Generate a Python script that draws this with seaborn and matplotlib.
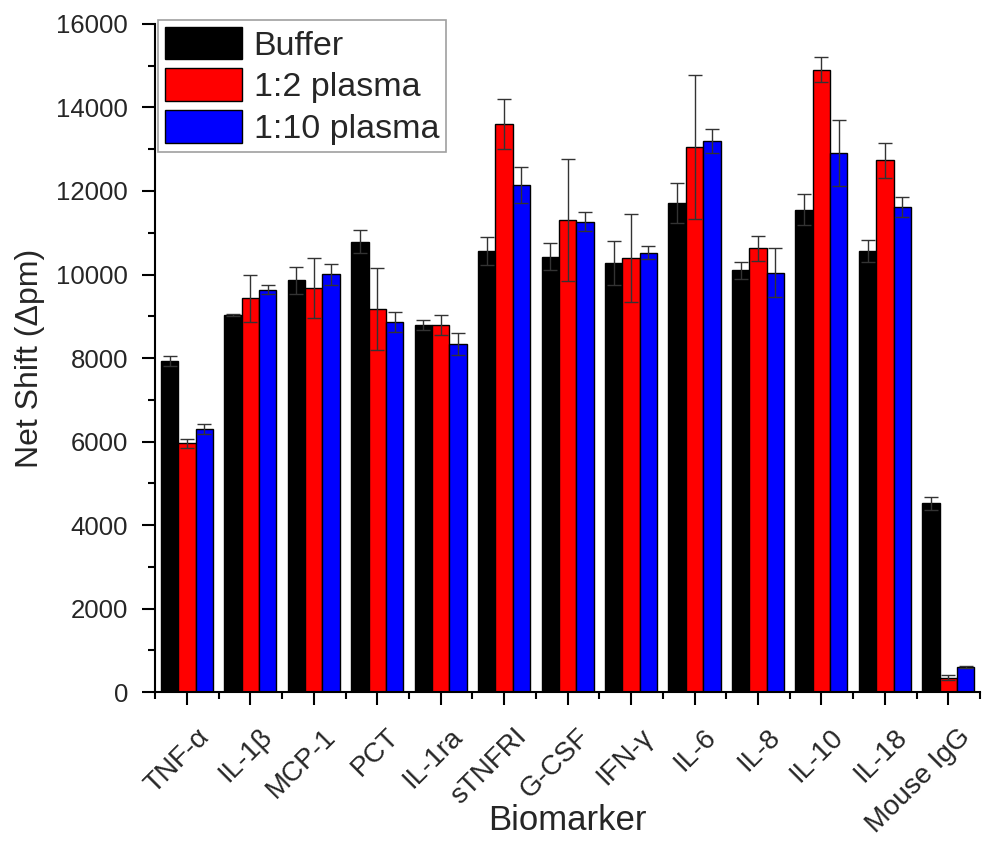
import numpy as np
import pandas as pd
import matplotlib
matplotlib.use("Agg")
import matplotlib.pyplot as plt
import matplotlib.transforms as mtransforms
from matplotlib.ticker import AutoMinorLocator, FixedLocator
import seaborn as sns

categories = ["TNF-α", "IL-1β", "MCP-1", "PCT", "IL-1ra", "sTNFRI", "G-CSF",
              "IFN-γ", "IL-6", "IL-8", "IL-10", "IL-18", "Mouse IgG"]
conditions = ["Buffer", "1:2 plasma", "1:10 plasma"]

buffer_vals = [7935, 9030, 9860, 10786, 8790, 10571, 10428, 10275, 11703, 10100, 11553, 10573, 4517]
buffer_err = [125, 20, 320, 270, 120, 335, 320, 535, 480, 200, 365, 265, 160]
plasma2_vals = [5956, 9429, 9669, 9166, 8790, 13605, 11315, 10387, 13054, 10628, 14901, 12731, 343]
plasma2_err = [100, 560, 720, 980, 240, 600, 1460, 1055, 1725, 300, 300, 430, 60]
plasma10_vals = [6300, 9636, 10005, 8870, 8328, 12136, 11265, 10523, 13190, 10044, 12906, 11619, 607]
plasma10_err = [120, 105, 255, 240, 263, 430, 225, 160, 290, 580, 795, 240, 20]

colors = ["#000000", "#FF0000", "#0000FF"]

sns.set_style("ticks")
plt.rcParams["font.family"] = ["Liberation Sans", "DejaVu Sans"]

df = pd.DataFrame({
    "Biomarker": categories * 3,
    "Condition": [c for c in conditions for _ in categories],
    "Value": buffer_vals + plasma2_vals + plasma10_vals,
})
errs = [buffer_err, plasma2_err, plasma10_err]

fig = plt.figure(figsize=(9.82, 8.44), dpi=100)
ax = fig.add_axes([0.158, 0.180, 0.840, 0.7916])

sns.barplot(data=df, x="Biomarker", y="Value", hue="Condition",
            order=categories, hue_order=conditions, palette=colors,
            width=0.82, edgecolor="black", linewidth=1, errorbar=None,
            saturation=1, ax=ax)

for container, err in zip(ax.containers, errs):
    for bar, e in zip(container, err):
        x = bar.get_x() + bar.get_width() / 2
        y = bar.get_height()
        ax.errorbar(x, y, yerr=e, fmt="none", ecolor="#333333",
                    elinewidth=1, capsize=5, capthick=1)

ax.set_ylim(0, 16000)
ax.set_xlim(-0.5, 12.5)
ax.set_yticks(np.arange(0, 16001, 2000))
ax.yaxis.set_minor_locator(AutoMinorLocator(2))
ax.xaxis.set_minor_locator(FixedLocator(np.arange(-0.5, 13, 1)))

ax.set_xticks(range(len(categories)))
ax.set_xticklabels(categories, rotation=45, ha="right", va="center",
                   rotation_mode="anchor", fontsize=20)

ax.tick_params(axis="both", which="major", direction="out", length=9.4,
               width=1.5, color="black")
ax.tick_params(axis="y", which="major", labelsize=18.5, pad=10)
ax.tick_params(axis="both", which="minor", direction="out", length=5,
               width=1.5, color="black")
ax.tick_params(axis="x", which="major", pad=20)

offset = mtransforms.ScaledTranslation(13 / 72, 0, fig.dpi_scale_trans)
for lbl in ax.get_xticklabels():
    lbl.set_transform(lbl.get_transform() + offset)

ax.set_xlabel("Biomarker", fontsize=25)
ax.xaxis.set_label_coords(0.5, -0.168)
ax.set_ylabel("Net Shift (Δpm)", fontsize=23, labelpad=8)

for s in ["top", "right"]:
    ax.spines[s].set_visible(False)
for s in ["left", "bottom"]:
    ax.spines[s].set_linewidth(1.5)
    ax.spines[s].set_color("black")

leg = ax.legend(loc="upper left", bbox_to_anchor=(0.004, 1.006),
                borderaxespad=0, fontsize=24.5, frameon=True, fancybox=False,
                handlelength=2.25, handleheight=1.1, labelspacing=0.2,
                handletextpad=0.35, borderpad=0.2, edgecolor="#888888",
                title=None)
leg.get_frame().set_linewidth(1.2)

fig.savefig("out.png", dpi=100)
